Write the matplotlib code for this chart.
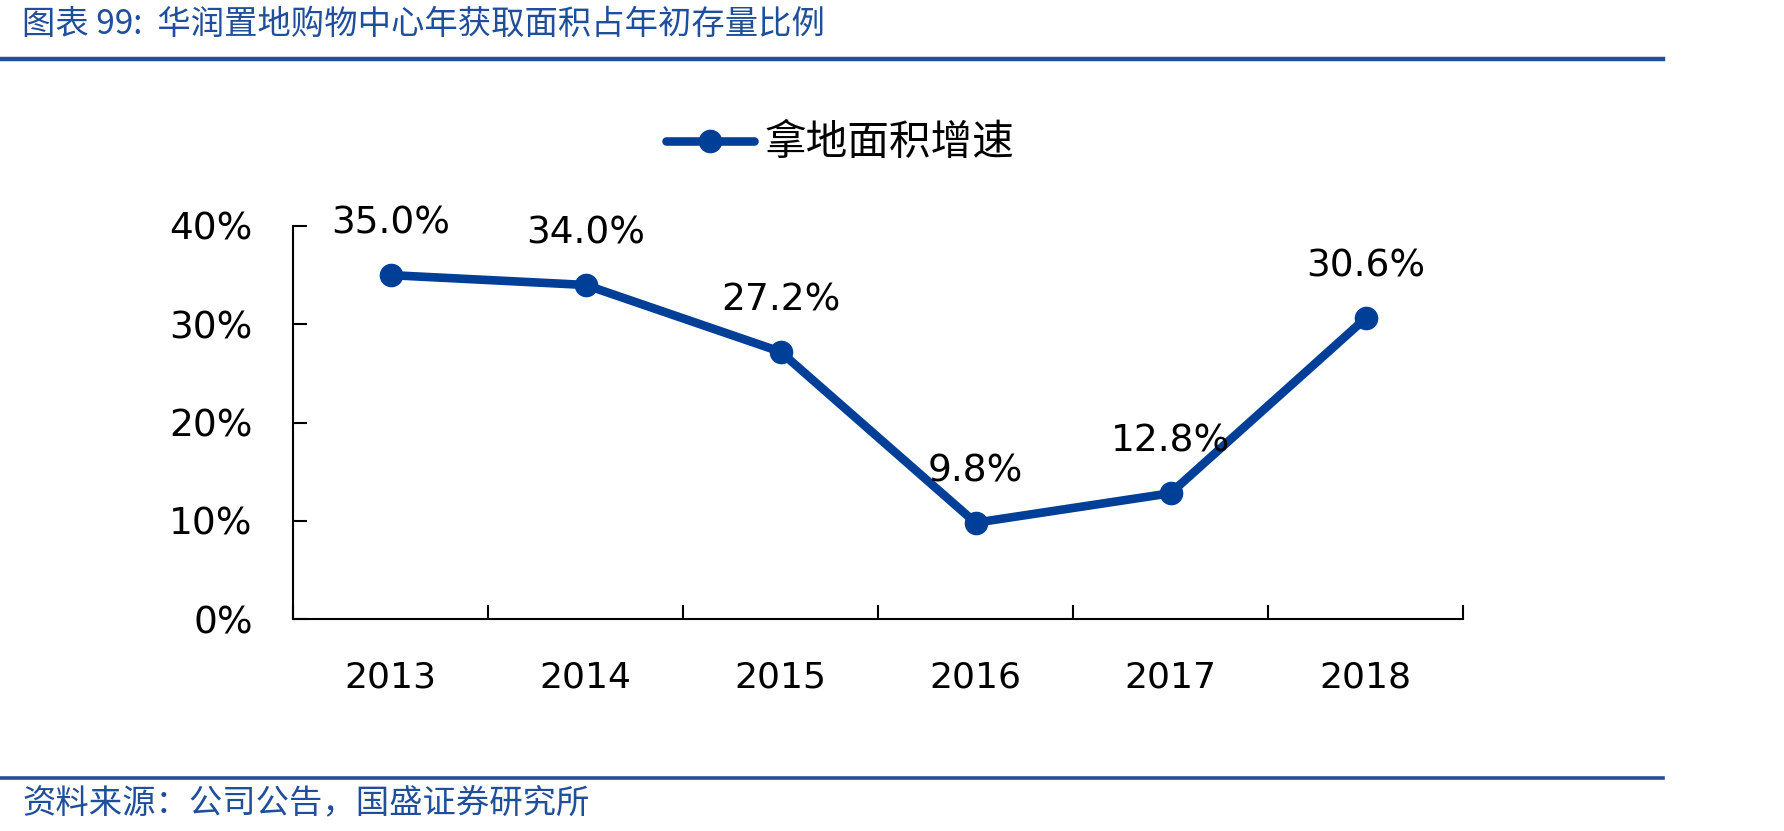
import matplotlib
matplotlib.use("Agg")
import matplotlib.pyplot as plt
from matplotlib.lines import Line2D
from matplotlib.ticker import FixedLocator, PercentFormatter

plt.rcParams['font.family'] = ['DejaVu Sans', 'Noto Sans CJK SC']

years = ['2013', '2014', '2015', '2016', '2017', '2018']
growth = [35.0, 34.0, 27.2, 9.8, 12.8, 30.6]
yticks = [0, 10, 20, 30, 40]
title = '图表 99:  华润置地购物中心年获取面积占年初存量比例'
series_name = '拿地面积增速'
source = '资料来源：公司公告，国盛证券研究所'

W, H = 1784, 831
blue = '#003F98'
fig = plt.figure(figsize=(W / 100, H / 100), dpi=100)

# header / footer
fig.text(22 / W, 1 - 24 / H, title, fontsize=24, color='#1F4E9A', style='italic',
         family=['Noto Sans CJK SC', 'DejaVu Sans'], ha='left', va='center')
fig.add_artist(Line2D([0, 1663 / W], [1 - 59 / H] * 2, color='#1F4E9A', lw=3.2))
fig.add_artist(Line2D([0, 1663 / W], [1 - 778 / H] * 2, color='#1F4E9A', lw=2.6))
fig.text(22 / W, 1 - 803 / H, source, fontsize=24, color='#1F4E9A', style='italic',
         family=['Noto Sans CJK SC', 'DejaVu Sans'], ha='left', va='center')

ax = fig.add_axes([293 / W, 1 - 619 / H, (1463 - 293) / W, (619 - 226) / H])
x = list(range(len(years)))
line, = ax.plot(x, growth, color=blue, lw=6.2, marker='o', markersize=16,
                solid_capstyle='round', label=series_name)
for xi, v in zip(x, growth):
    ax.annotate(f'{v:.1f}%', (xi, v), xytext=(0, 37), textcoords='offset points',
                ha='center', va='center', fontsize=27, color='black')

ax.set_xlim(-0.5, len(years) - 0.5)
ax.set_ylim(0, 40)
ax.set_yticks(yticks)
ax.yaxis.set_major_formatter(PercentFormatter(decimals=0))
ax.set_xticks(x)
ax.set_xticklabels(years)
ax.xaxis.set_minor_locator(FixedLocator([i - 0.5 for i in range(len(years) + 1)]))
ax.tick_params(axis='x', which='major', length=0, pad=30, labelsize=26)
ax.tick_params(axis='x', which='minor', direction='in', length=10, width=1.5)
ax.tick_params(axis='y', direction='in', length=10, width=1.5, pad=29, labelsize=27)
for s in ['top', 'right']:
    ax.spines[s].set_visible(False)
for s in ['left', 'bottom']:
    ax.spines[s].set_linewidth(1.5)
ax.set_facecolor('none')

leg = fig.legend(handles=[line], loc='center', bbox_to_anchor=(840 / W, 1 - 144 / H),
                 frameon=False, prop={'family': ['Noto Sans CJK SC'], 'size': 30},
                 handlelength=2.1, handletextpad=0.25)

fig.savefig('out.png', dpi=100)
